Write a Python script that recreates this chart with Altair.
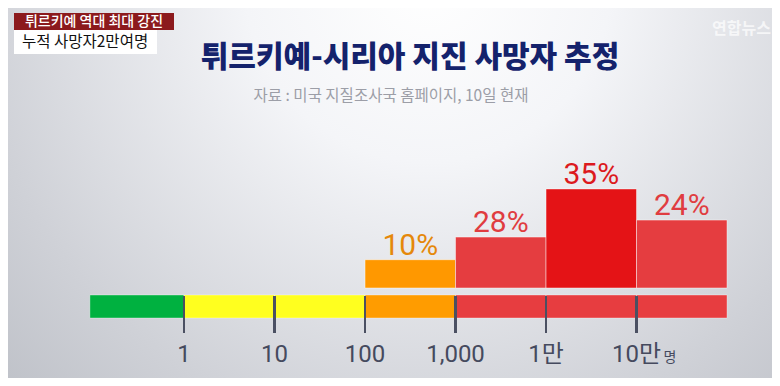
import altair as alt
import pandas as pd

W, H = 764, 370

# Colour strip: bins in log10(deaths) units
bin_start = [-1.04, 0, 1, 2, 3, 4, 5]
bin_end = [0, 1, 2, 3, 4, 5, 6]
bin_color = ["#00b140", "#ffff1f", "#ffff1f", "#ff9c00", "#e73d40", "#e73d40", "#e73d40"]

# Tick marks and labels
tick_pos = [0, 1, 2, 3, 4, 5]
tick_label = ["1", "10", "100", "1,000", "1만", "10만"]
tick_width = [2, 3, 2, 3, 2, 3]
unit_label = "명"

# Bars (probability of fatalities)
bar_start = [2, 3, 4, 5]
bar_end = [3, 4, 5, 6]
bar_height = [10, 18, 35, 24]
bar_label = ["10%", "28%", "35%", "24%"]
bar_color = ["#ff9800", "#e53d40", "#e41316", "#e53d40"]
label_color = ["#e5880a", "#e03c40", "#dc1a1e", "#e03c40"]

title_text = "튀르키예-시리아 지진 사망자 추정"
subtitle_text = "자료 : 미국 지질조사국 홈페이지, 10일 현재"
tag1 = "튀르키예 역대 최대 강진"
tag2 = "누적 사망자2만여명"
watermark = "연합뉴스"

strip_df = pd.DataFrame({"s": bin_start, "e": bin_end, "c": bin_color})
tick_df = pd.DataFrame({"p": tick_pos, "t": tick_label, "w": tick_width})
bar_df = pd.DataFrame({"s": bar_start, "e": bar_end, "h": bar_height,
                       "t": bar_label, "c": bar_color, "lc": label_color})
one = pd.DataFrame({"a": [0]})

xs = alt.Scale(domain=[-1.945, 6.497], nice=False, zero=False)
ys = alt.Scale(domain=[-31.80, 98.94], nice=False, zero=False)

grad = alt.RadialGradient(
    gradient="radial", x1=0.55, y1=0.22, r1=0, x2=0.55, y2=0.22, r2=0.8,
    stops=[alt.GradientStop(offset=0, color="#ffffff"),
           alt.GradientStop(offset=0.3, color="#f4f5f8"),
           alt.GradientStop(offset=0.75, color="#cfd1d7"),
           alt.GradientStop(offset=1, color="#bcbfc6")])

bg = alt.Chart(one).mark_rect(color=grad).encode(
    x=alt.value(0), x2=alt.value(W), y=alt.value(0), y2=alt.value(H))

strip = alt.Chart(strip_df).mark_rect(stroke="#ffffff", strokeOpacity=0.35, strokeWidth=1).encode(
    x=alt.X("s:Q", scale=xs, axis=None), x2="e:Q",
    y=alt.value(287), y2=alt.value(310),
    color=alt.Color("c:N", scale=None))

ticks = alt.Chart(tick_df).mark_rule(color="#4b5062").encode(
    x=alt.X("p:Q", scale=xs, axis=None),
    y=alt.value(288), y2=alt.value(325),
    strokeWidth=alt.StrokeWidth("w:Q", scale=None))

tick_text = alt.Chart(tick_df).mark_text(
    font="Roboto, Noto Sans CJK KR", fontSize=24, color="#454a5e",
    baseline="alphabetic", align="center").encode(
    x=alt.X("p:Q", scale=xs, axis=None), y=alt.value(354), text="t:N")

unit_text = alt.Chart(pd.DataFrame({"p": [tick_pos[-1]], "t": [unit_label]})).mark_text(
    font="Noto Sans CJK KR", fontSize=14, color="#454a5e",
    baseline="alphabetic", align="left", dx=27).encode(
    x=alt.X("p:Q", scale=xs, axis=None), y=alt.value(354), text="t:N")

bars = alt.Chart(bar_df).mark_rect(stroke="#ffffff", strokeOpacity=0.45, strokeWidth=1).encode(
    x=alt.X("s:Q", scale=xs, axis=None), x2="e:Q",
    y=alt.Y("h:Q", scale=ys, axis=None), y2=alt.datum(0),
    color=alt.Color("c:N", scale=None))

bar_text = alt.Chart(bar_df).transform_calculate(m="(datum.s + datum.e) / 2").mark_text(
    font="Roboto", fontSize=30, baseline="alphabetic", align="center", dy=-5).encode(
    x=alt.X("m:Q", scale=xs, axis=None),
    y=alt.Y("h:Q", scale=ys, axis=None),
    text="t:N", color=alt.Color("lc:N", scale=None))

title = alt.Chart(one).mark_text(
    text=title_text, font="Noto Sans CJK KR", fontWeight=900, fontSize=30,
    color="#14226c", align="center", baseline="alphabetic").encode(
    x=alt.value(402), y=alt.value(59))

subtitle = alt.Chart(one).mark_text(
    text=subtitle_text, font="Noto Sans CJK KR", fontSize=15.5,
    color="#9c9ea7", align="center", baseline="alphabetic").encode(
    x=alt.value(383), y=alt.value(93))

tag1_box = alt.Chart(one).mark_rect(color="#8c1a1d").encode(
    x=alt.value(6), x2=alt.value(166), y=alt.value(5), y2=alt.value(22))
tag2_box = alt.Chart(one).mark_rect(color="#ffffff").encode(
    x=alt.value(6), x2=alt.value(149), y=alt.value(22), y2=alt.value(46))
tag1_text = alt.Chart(one).mark_text(
    text=tag1, font="Noto Sans CJK KR", fontSize=14, fontWeight=500,
    color="#ffffff", align="center", baseline="middle").encode(
    x=alt.value(86), y=alt.value(14))
tag2_text = alt.Chart(one).mark_text(
    text=tag2, font="Noto Sans CJK KR", fontSize=15.5,
    color="#111111", align="left", baseline="middle").encode(
    x=alt.value(14), y=alt.value(34))

wm = alt.Chart(one).mark_text(
    text=watermark, font="Noto Sans CJK KR", fontSize=16, fontWeight=700,
    color="#ffffff", opacity=0.7, align="left", baseline="alphabetic").encode(
    x=alt.value(704), y=alt.value(26))

chart = alt.layer(
    bg, strip, ticks, bars, bar_text, tick_text, unit_text,
    title, subtitle, tag1_box, tag2_box, tag1_text, tag2_text, wm
).properties(
    width=W, height=H, padding=0, autosize=alt.AutoSizeParams(type="none"),
    background="#e4e6ea"
).configure_view(stroke=None)

chart.save("out.html", embed_options={"renderer": "svg", "actions": False})
